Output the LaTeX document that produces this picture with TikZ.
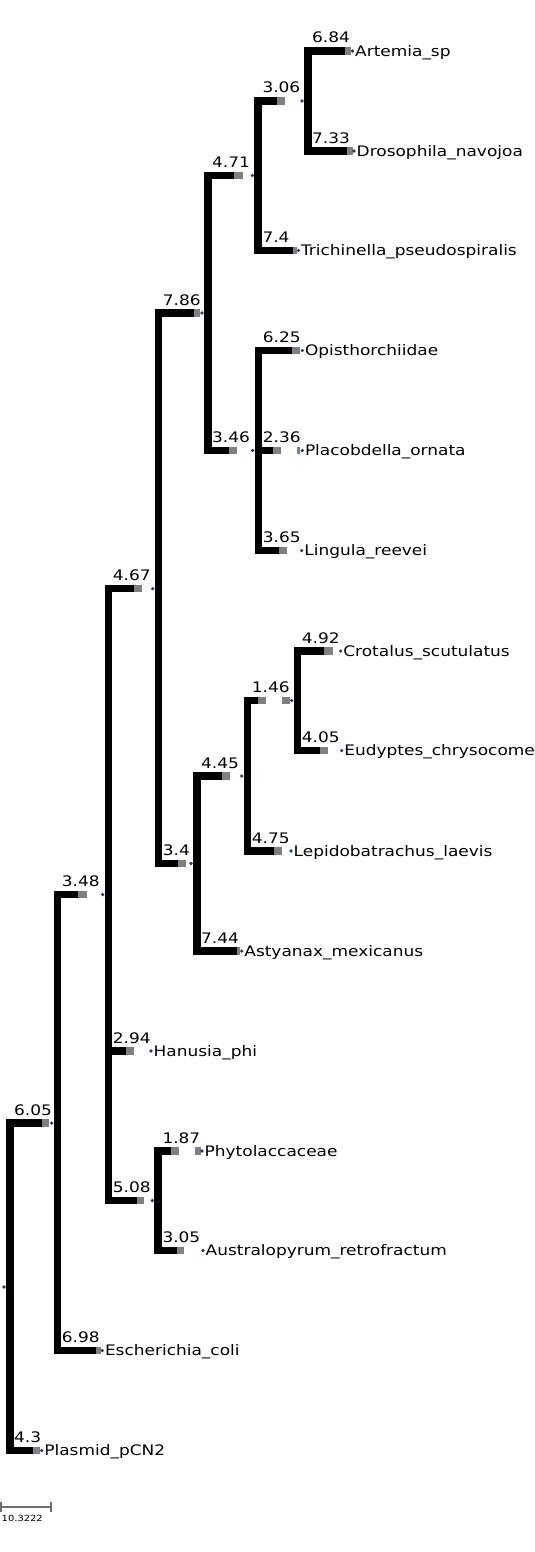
\documentclass[tikz,border=0pt]{standalone}
\usepackage{fontspec}
\setmainfont{DejaVu Sans}[FakeStretch=1.17]
\usetikzlibrary{positioning}

\definecolor{tipgray}{HTML}{808080}
\definecolor{dotblue}{HTML}{1F3A8F}
\definecolor{scalegray}{HTML}{6E6E6E}

\tikzset{
  stem/.style={line width=7.5pt,black,line join=miter},
  tipbar/.style={line width=7.5pt,tipgray},
  blen/.style={font=\fontsize{14.5}{17}\selectfont,anchor=base west,inner sep=0pt},
  leaf/.style={font=\fontsize{14.5}{17}\selectfont,anchor=base west,inner sep=0pt},
  scalebar/.style={line width=1.6pt,scalegray},
}

\begin{document}
\begin{tikzpicture}[x=1pt,y=-1pt]
\useasboundingbox (0,0) rectangle (535,1552);

  % inner nodes of the tree
  \coordinate (root) at (4,1287);
  \coordinate (nA) at (51.7,1123);
  \coordinate (nB) at (102.7,894.5);
  \coordinate (nC) at (152.7,588.7);
  \coordinate (nD) at (202,313);
  \coordinate (nE) at (252.3,175.5);
  \coordinate (nF) at (302,101);
  \coordinate (nG) at (252.7,450.5);
  \coordinate (nH) at (191,863.5);
  \coordinate (nI) at (241.7,776);
  \coordinate (nJ) at (291.7,700.5);
  \coordinate (nK) at (152.3,1200.5);

  % leaves
  \coordinate (artemia) at (352.5,51);
  \coordinate (drosophila) at (354,151);
  \coordinate (trichinella) at (298.3,250.5);
  \coordinate (opisth) at (302.3,350.5);
  \coordinate (placob) at (302.3,450.5);
  \coordinate (lingula) at (301.7,550.5);
  \coordinate (crotalus) at (340.7,651);
  \coordinate (eudyptes) at (341.7,750.5);
  \coordinate (lepido) at (291,851);
  \coordinate (astyanax) at (241.7,951);
  \coordinate (hanusia) at (151,1051);
  \coordinate (phyto) at (202,1151);
  \coordinate (australo) at (203,1250.5);
  \coordinate (escher) at (102.3,1350.5);
  \coordinate (plasmid) at (41.7,1450.5);

% branches: parent/child/end of black/end of gray/length
\foreach \p/\c/\b/\g/\l in {
  root/nA/41.7/49/6.05, root/plasmid/32.7/40/4.3,
  nA/nB/78.3/86.7/3.48, nA/escher/96/101/6.98,
  nB/nC/134/142.3/4.67, nB/hanusia/126/134/2.94, nB/nK/136.7/144.3/5.08,
  nC/nD/194/200/7.86, nC/nH/177.7/186/3.4,
  nD/nE/234/242.7/4.71, nD/nG/229/236.7/3.46,
  nE/nF/277.3/284.7/3.06, nE/trichinella/293.3/296.7/7.4,
  nF/artemia/345/351/6.84, nF/drosophila/347/353/7.33,
  nG/opisth/292.3/300/6.25, nG/placob/273.3/281/2.36, nG/lingula/279.3/287/3.65,
  nH/nI/221.7/229.7/4.45, nH/astyanax/237.3/240/7.44,
  nI/nJ/258.3/266/1.46, nI/lepido/274.3/282.3/4.75,
  nJ/crotalus/324.3/332.7/4.92, nJ/eudyptes/320/328.3/4.05,
  nK/phyto/171/179/1.87, nK/australo/176.7/184.3/3.05}
{
  \draw[stem] ([xshift=5.75pt]\p) |- (\b,0 |- \c);
  \draw[tipbar] (\b,0 |- \c) -- (\g,0 |- \c);
  \path (\p |- \c) ++(10,-8) node[blen] {\l};
}

% loose gray pieces
\foreach \c/\a/\e in {placob/297.3/300, nJ/282.3/290, phyto/195/201}
  \draw[tipbar] (\a,0 |- \c) -- (\e,0 |- \c);

% dots
\foreach \n in {root,nA,nB,nC,nD,nE,nF,nG,nH,nI,nJ,nK,artemia,drosophila,trichinella,opisth,placob,lingula,crotalus,eudyptes,lepido,astyanax,hanusia,phyto,australo,escher,plasmid}
  \fill[dotblue] (\n) circle (1.8pt);

% leaf names
\foreach \n/\t in {artemia/Artemia\_sp, drosophila/Drosophila\_navojoa,
  trichinella/Trichinella\_pseudospiralis, opisth/Opisthorchiidae,
  placob/Placobdella\_ornata, lingula/Lingula\_reevei,
  crotalus/Crotalus\_scutulatus, eudyptes/Eudyptes\_chrysocome,
  lepido/Lepidobatrachus\_laevis, astyanax/Astyanax\_mexicanus,
  hanusia/Hanusia\_phi, phyto/Phytolaccaceae,
  australo/Australopyrum\_retrofractum, escher/Escherichia\_coli,
  plasmid/Plasmid\_pCN2}
  \node[leaf] (\n-name) at ([shift={(2.5,5.3)}]\n) {\t};

% scale bar
\coordinate (sbl) at (1,1506.7);
\coordinate (sbr) at (51,1506.7);
\draw[scalebar] (sbl) -- (sbr);
\draw[scalebar] ([yshift=5pt]sbl) -- ([yshift=-5pt]sbl);
\draw[scalebar] ([yshift=5pt]sbr) -- ([yshift=-5pt]sbr);
\node[font=\fontsize{8.5}{10}\selectfont,anchor=north west,inner sep=0pt] (sblabel) at (1.5,1514.5) {10.3222};

\end{tikzpicture}
\end{document}
